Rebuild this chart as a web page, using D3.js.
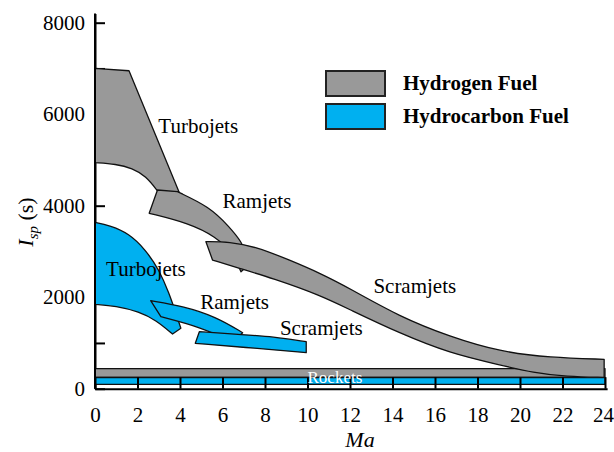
<!DOCTYPE html>
<html>
<head>
<meta charset="utf-8">
<script src="https://cdn.jsdelivr.net/npm/d3@7"></script>
<style>
  body { margin: 0; background: #fff; }
  svg { display: block; }
  svg text { font-family: "Liberation Serif", "Times New Roman", serif !important; }
</style>
</head>
<body>
<svg id="chart" width="614" height="452"></svg>
<script>
// ---------- data (Ma, Isp in s) ----------
const xTickValues = [0, 2, 4, 6, 8, 10, 12, 14, 16, 18, 20, 22, 24];
const yTickValues = [0, 1000, 2000, 3000, 4000, 5000, 6000, 7000, 8000];
const yTickLabels = [0, 2000, 4000, 6000, 8000];
const legendLabels = ["Hydrogen Fuel", "Hydrocarbon Fuel"];

// Hydrogen turbojets
const h2TurboTop = [[0, 7000], [1.6, 6950], [3.96, 4293], [2.97, 4306]];
const h2TurboBottom = [[2.97, 4306], [2.39, 4649], [1.76, 4817], [0.98, 4911], [0, 4940]];
// Hydrogen ramjets
const h2RamTop = [[3.88, 4306], [5.38, 3978], [6.32, 3541], [6.95, 3178], [7.08, 2950]];
const h2RamRight = [[7.08, 2950], [7.11, 2654]];
const h2RamBottom = [[6.87, 2557], [6.48, 2959], [5.69, 3322], [4.43, 3615], [2.55, 3834]];
const h2RamCorner = [[2.94, 4343]];
// Hydrogen scramjets
const h2ScramTop = [[5.22, 3213], [6.32, 3213], [7.58, 3104], [9.15, 2813], [10.57, 2530], [11.98, 2194],
                    [14.34, 1574], [16.70, 1137], [19.06, 809], [21.42, 678], [23.96, 643]];
const h2ScramBottom = [[23.96, 249], [22.20, 262], [20.63, 350], [19.06, 518], [16.70, 774], [14.34, 1211],
                       [11.98, 1730], [10.57, 2048], [8.36, 2413], [6.79, 2632], [5.53, 2813]];
// Hydrocarbon turbojets
const hcTurboTop = [[0, 3637], [0.66, 3571], [1.6, 3396], [2.39, 3032], [3.02, 2595], [3.49, 2085], [3.81, 1648], [4.04, 1320]];
const hcTurboBottom = [[3.65, 1196], [2.86, 1502], [2.08, 1683], [0.98, 1808], [0, 1845]];
// Hydrocarbon ramjets
const hcRamTop = [[2.62, 1924], [4.12, 1808], [5.69, 1574], [6.95, 1224]];
const hcRamBottom = [[6.48, 1027], [4.91, 1355], [3.10, 1574]];
// Hydrocarbon scramjets
const hcScramTop = [[4.91, 1246], [7.0, 1180], [8.36, 1137], [9.94, 1027]];
const hcScramBottom = [[9.94, 787], [7.58, 883], [4.72, 992]];
// Rockets (Ma range, Isp range)
const rocketMa = [0, 24];
const rocketH2Isp = [245, 440];
const rocketHCIsp = [96, 245];

// Labels [text, Ma, Isp]
const h2Labels = [["Turbojets", 2.98, 5600], ["Ramjets", 6.0, 3940], ["Scramjets", 13.1, 2085]];
const hcLabels = [["Turbojets", 0.52, 2463], ["Ramjets", 4.95, 1733], ["Scramjets", 8.7, 1175]];
const rocketLabel = ["Rockets", 10.0, 125];

// ---------- styles ----------
const GRAY = "#999999";
const BLUE = "#00b0f0";
const FONT = "'Liberation Serif', 'Times New Roman', serif";

const svg = d3.select("#chart");
const x = d3.scaleLinear().domain([0, 24.1]).range([95, 95 + 24.1 * 21.25]);
const y = d3.scaleLinear().domain([0, 8200]).range([388.7, 388.7 - 8200 * 0.04575]);

const curve = d3.line().x(d => x(d[0])).y(d => y(d[1])).curve(d3.curveBasis);
const straight = d3.line().x(d => x(d[0])).y(d => y(d[1]));

function shapePath(edges) {
  let s = "";
  edges.forEach(([pts, curved], i) => {
    let p = (curved && pts.length > 2 ? curve : straight)(pts);
    if (i > 0) p = "L" + p.slice(1);
    s += p;
  });
  return s + "Z";
}

// y axis (ticks under shapes)
const yAxis = d3.axisLeft(y).tickValues(yTickValues)
  .tickFormat(d => yTickLabels.includes(d) ? d : "")
  .tickSizeInner(-10).tickSizeOuter(0).tickPadding(10);
const gy = svg.append("g").attr("transform", "translate(95,0)").call(yAxis);
gy.attr("font-family", null);
gy.selectAll("text").attr("font-size", 21).attr("fill", "#000").style("font-family", FONT);
gy.selectAll("line").attr("stroke", "#000").attr("stroke-width", 2);
gy.select(".domain").attr("stroke", "#000").attr("stroke-width", 2);

const shapes = svg.append("g").attr("stroke", "#111").attr("stroke-width", 1.3).attr("stroke-linejoin", "round");

// rockets
shapes.append("rect").attr("x", x(rocketMa[0])).attr("width", x(rocketMa[1]) - x(rocketMa[0]))
  .attr("y", y(rocketH2Isp[1])).attr("height", y(rocketH2Isp[0]) - y(rocketH2Isp[1])).attr("fill", GRAY);
shapes.append("rect").attr("x", x(rocketMa[0])).attr("width", x(rocketMa[1]) - x(rocketMa[0]))
  .attr("y", y(rocketHCIsp[1])).attr("height", y(rocketHCIsp[0]) - y(rocketHCIsp[1])).attr("fill", BLUE);

// hydrogen
shapes.append("path").attr("fill", GRAY).attr("d", shapePath([[h2TurboTop, false], [h2TurboBottom, true]]));
shapes.append("path").attr("fill", GRAY).attr("d", shapePath([[h2RamTop, true], [h2RamRight, false], [h2RamBottom, true], [h2RamCorner, false]]));
shapes.append("path").attr("fill", GRAY).attr("d", shapePath([[h2ScramTop, true], [h2ScramBottom, true]]));
// hydrocarbon
shapes.append("path").attr("fill", BLUE).attr("d", shapePath([[hcTurboTop, true], [hcTurboBottom, true]]));
shapes.append("path").attr("fill", BLUE).attr("d", shapePath([[hcRamTop, true], [hcRamBottom, true]]));
shapes.append("path").attr("fill", BLUE).attr("d", shapePath([[hcScramTop, true], [hcScramBottom, true]]));

// x axis
const xAxis = d3.axisBottom(x).tickValues(xTickValues).tickSizeInner(-11.5).tickSizeOuter(0).tickPadding(18);
const gx = svg.append("g").attr("transform", `translate(0,${y(0)})`).call(xAxis);
gx.attr("font-family", null);
gx.selectAll("text").attr("font-size", 21).attr("fill", "#000").style("font-family", FONT)
  .attr("dx", d => d === 24 ? -2 : 0);
gx.selectAll("line").attr("stroke", "#000").attr("stroke-width", 2);
gx.select(".domain").attr("stroke", "#000").attr("stroke-width", 2);
// y axis line redrawn on top
svg.append("line").attr("x1", 95).attr("x2", 95).attr("y1", y(0)).attr("y2", y(8200))
  .attr("stroke", "#000").attr("stroke-width", 2);

// labels
const lab = svg.append("g").attr("font-size", 21).attr("fill", "#000");
h2Labels.concat(hcLabels).forEach(([t, m, v]) => {
  lab.append("text").attr("x", x(m)).attr("y", y(v)).style("font-family", FONT).text(t);
});
svg.append("text").attr("x", x(rocketLabel[1])).attr("y", y(rocketLabel[2]))
  .attr("font-size", 17).attr("fill", "#fff").style("font-family", FONT).text(rocketLabel[0]);

// axis titles
svg.append("text").attr("x", 360).attr("y", 447).attr("text-anchor", "middle")
  .attr("font-size", 22).attr("font-style", "italic").style("font-family", FONT).text("Ma");
const yt = svg.append("text").attr("transform", "translate(33,222) rotate(-90)")
  .attr("text-anchor", "middle").attr("font-size", 22).style("font-family", FONT);
yt.append("tspan").attr("font-style", "italic").text("I");
yt.append("tspan").attr("font-style", "italic").attr("font-size", 15).attr("dy", 5).text("sp");
yt.append("tspan").attr("dy", -5).text(" (s)");

// legend
const legend = svg.append("g");
[GRAY, BLUE].forEach((c, i) => {
  legend.append("rect").attr("x", 326).attr("y", 71 + i * 33).attr("width", 59).attr("height", 25)
    .attr("fill", c).attr("stroke", "#222").attr("stroke-width", 2);
  legend.append("text").attr("x", 403).attr("y", 90 + i * 33.3).attr("font-size", 21)
    .attr("font-weight", "bold").style("font-family", FONT).text(legendLabels[i]);
});
</script>
</body>
</html>
